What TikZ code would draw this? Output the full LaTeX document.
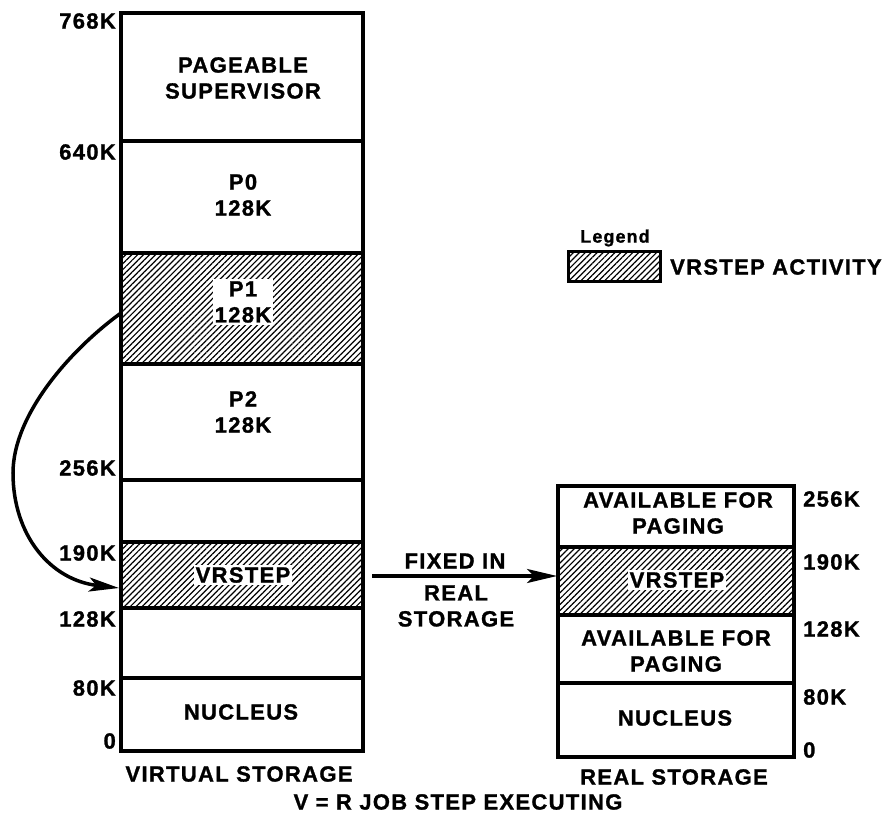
\documentclass[tikz,border=0pt]{standalone}
\usepackage{fontspec}
\setmainfont{Liberation Sans}[LetterSpace=6,BoldFeatures={FakeBold=1.2}]
\usetikzlibrary{patterns.meta,arrows.meta}
\begin{document}
\begin{tikzpicture}[x=1pt,y=-1pt,
  txt/.style={font=\bfseries\fontsize{22}{26}\selectfont,align=center,inner sep=1pt},
  hatch/.style={pattern={Lines[angle=45,distance=4.2pt,line width=1.2pt]}},
  box/.style={line width=4pt},
  div/.style={line width=3.2pt},
  wl/.style={txt,fill=white,inner sep=2pt},
  arr/.style={line width=3.5pt,-{Stealth[length=30pt,width=14pt,inset=7pt]}}]
\useasboundingbox (0,0) rectangle (895,826);

% ---------- virtual storage ----------
\fill[hatch] (121,253) rectangle (363,364);
\fill[hatch] (121,542) rectangle (363,608);
\draw[div] (121,141) -- (363,141);
\draw[div] (121,253) -- (363,253);
\draw[div] (121,364) -- (363,364);
\draw[div] (121,480) -- (363,480);
\draw[div] (121,542) -- (363,542);
\draw[div] (121,608) -- (363,608);
\draw[div] (121,678) -- (363,678);
\draw[box] (121,13) rectangle (363,751);

\node[txt] (ps) at (243,78) {PAGEABLE\\SUPERVISOR};
\node[txt] (p0) at (243,195) {P0\\128K};
\node[wl]  (p1) at (243,302) {P1\\128K};
\node[txt] (p2) at (243,412) {P2\\128K};
\node[wl]  (vr) at (243,575) {VRSTEP};
\node[txt] (vn) at (241,712) {NUCLEUS};
\node[txt] (vs) at (239,774) {VIRTUAL STORAGE};

\node[txt,anchor=east] (l768) at (117,21)  {768K};
\node[txt,anchor=east] (l640) at (117,152) {640K};
\node[txt,anchor=east] (l256) at (117,468) {256K};
\node[txt,anchor=east] (l190) at (117,553) {190K};
\node[txt,anchor=east] (l128) at (117,619) {128K};
\node[txt,anchor=east] (l80)  at (117,688) {80K};
\node[txt,anchor=east] (l0)   at (117,741) {0};

% ---------- real storage ----------
\fill[hatch] (558,547) rectangle (794,615);
\draw[div] (558,547) -- (794,547);
\draw[div] (558,615) -- (794,615);
\draw[div] (558,683) -- (794,683);
\draw[box] (558,486) rectangle (794,757);

\node[txt] (ra1) at (678,513) {AVAILABLE FOR\\PAGING};
\node[wl]  (rvr) at (677,580) {VRSTEP};
\node[txt] (ra2) at (676,651) {AVAILABLE FOR\\PAGING};
\node[txt] (rn)  at (675,718) {NUCLEUS};
\node[txt] (rs)  at (674,777) {REAL STORAGE};

\node[txt,anchor=west] (r256) at (802,499) {256K};
\node[txt,anchor=west] (r190) at (802,562) {190K};
\node[txt,anchor=west] (r128) at (802,629) {128K};
\node[txt,anchor=west] (r80)  at (802,697) {80K};
\node[txt,anchor=west] (r0)   at (802,750) {0};

% ---------- arrows ----------
\coordinate (fromV) at (372,576);
\coordinate (toR) at (557,576);
\draw[arr] (fromV) -- (toR);
\node[txt] (fix) at (455,561) {FIXED IN};
\node[txt] (rst) at (456,606) {REAL\\STORAGE};

\coordinate (p1l) at (121,313);
\coordinate (vrl) at (119,588);
\draw[arr] (p1l) .. controls (70,350) and (13,415) .. (13,473)
  .. controls (13,535) and (50,580) .. (vrl);

% ---------- legend ----------
\node[font=\bfseries\fontsize{18}{20}\selectfont,inner sep=0pt] (lg) at (615,238) {Legend};
\filldraw[hatch,draw=black,line width=3pt] (568,252) rectangle (660,282);
\node[txt,anchor=west] (la) at (669,267) {VRSTEP ACTIVITY};

% ---------- caption ----------
\node[txt] (cap) at (458,802) {V = R JOB STEP EXECUTING};
\end{tikzpicture}
\end{document}
